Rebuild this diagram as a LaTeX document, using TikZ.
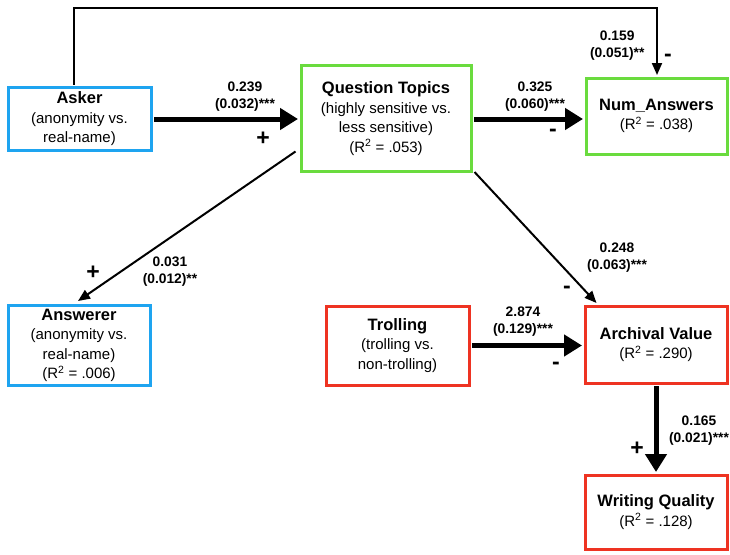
\documentclass[tikz,border=0pt]{standalone}
\usepackage{fontspec}
\setmainfont{Liberation Sans}
\usetikzlibrary{arrows.meta,calc}
\definecolor{varblue}{HTML}{1EA4F0}
\definecolor{vargreen}{HTML}{6ADB3E}
\definecolor{varred}{HTML}{EE3322}
\newcommand\vtitle[1]{{\bfseries\fontsize{16.5}{19.5}\selectfont #1}}
\newcommand\rsq[1]{(R\textsuperscript{2} = #1)}
\begin{document}
\begin{tikzpicture}[x=1pt,y=-1pt,
  var/.style={draw=#1, line width=3pt, fill=white, align=center, inner sep=0pt,
              font=\fontsize{15}{19.5}\selectfont},
  strong/.style={line width=5pt, -{Triangle[length=18pt,width=21pt]}},
  weak/.style={line width=2pt, -{Triangle[length=12pt,width=10pt]}},
  coef/.style={font=\bfseries\fontsize{13.8}{17}\selectfont, align=center},
  sign/.style={font=\bfseries\fontsize{23}{23}\selectfont}]
\useasboundingbox (0,0) rectangle (730,554);

% variables
\node[var=varblue, minimum width=143pt, minimum height=63pt] (asker) at (79.5,119)
  {\vtitle{Asker}\\(anonymity vs.\\real-name)};
\node[var=vargreen, minimum width=170pt, minimum height=106pt] (qt) at (386,118.5)
  {\vtitle{Question Topics}\\(highly sensitive vs.\\less sensitive)\\\rsq{.053}};
\node[var=vargreen, minimum width=141pt, minimum height=76pt] (num) at (656.5,116)
  {\vtitle{Num\_Answers}\\\rsq{.038}};
\node[var=varblue, minimum width=142pt, minimum height=80pt] (answ) at (79,345.5)
  {\vtitle{Answerer}\\(anonymity vs.\\real-name)\\\rsq{.006}};
\node[var=varred, minimum width=143pt, minimum height=79pt] (troll) at (397.5,345.5)
  {\vtitle{Trolling}\\(trolling vs.\\non-trolling)};
\node[var=varred, minimum width=142pt, minimum height=77pt] (arch) at (656,344.5)
  {\vtitle{Archival Value}\\\rsq{.290}};
\node[var=varred, minimum width=142pt, minimum height=74pt] (write) at (656,512)
  {\vtitle{Writing Quality}\\\rsq{.128}};

% paths
\coordinate (over) at (657,8);
\draw[weak] ($(asker.north)+(-6,-1.5)$) |- (over) -- ($(num.north)+(0.5,-1.5)$);
\draw[strong] ($(asker.east)+(1.5,0)$) -- ($(asker.east -| qt.west)+(-1.5,0)$);
\draw[strong] ($(asker.east -| qt.east)+(1.5,0)$) -- ($(asker.east -| num.west)+(-1.5,0)$);
\draw[weak] ($(qt.west)+(-4,33)$) -- ($(answ.north)+(-1,-3)$);
\draw[weak] ($(qt.south east)+(2,-1)$) -- ($(arch.north west)+(13,-1.5)$);
\draw[strong] ($(troll.east)+(1.5,0)$) -- ($(troll.east -| arch.west)+(-1.5,0)$);
\draw[strong] ($(arch.south)+(0,1.5)$) -- ($(write.north)+(0,-1.5)$);

% coefficients
\node[coef, anchor=east] (c1) at (648,46) {0.159\\(0.051)**};
\node[sign] (s1) at (668,58) {-};
\node[coef] (c2) at (245,97) {0.239\\(0.032)***};
\node[sign] (s2) at (263,139) {+};
\node[coef] (c3) at (535,97) {0.325\\(0.060)***};
\node[sign] (s3) at (553,133) {-};
\node[coef] (c4) at (170,272) {0.031\\(0.012)**};
\node[sign] (s4) at (93,273) {+};
\node[coef] (c5) at (617,258) {0.248\\(0.063)***};
\node[sign] (s5) at (567,290) {-};
\node[coef] (c6) at (523,322) {2.874\\(0.129)***};
\node[sign] (s6) at (556,366) {-};
\node[coef] (c7) at (699,431) {0.165\\(0.021)***};
\node[sign] (s7) at (637,449) {+};
\end{tikzpicture}
\end{document}
